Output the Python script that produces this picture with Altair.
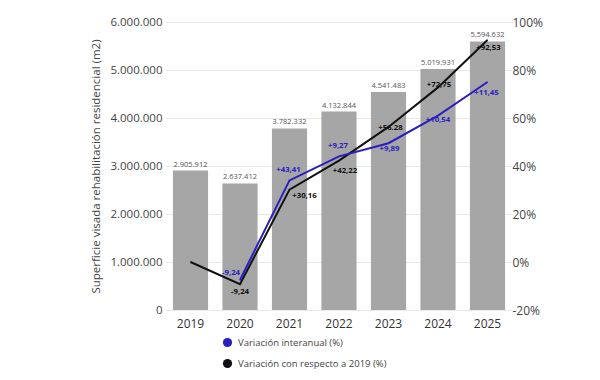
import altair as alt
import pandas as pd

years = ["2019", "2020", "2021", "2022", "2023", "2024", "2025"]
surface = [2905912, 2637412, 3782332, 4132844, 4541483, 5019931, 5594632]

# Variación con respecto a 2019 (%)
var_2019 = [0, -9.24, 30.16, 42.22, 56.28, 72.75, 92.53]
var_2019_labels = ["", "-9,24", "+30,16", "+42,22", "+56.28", "+72,75", "+92,53"]

# Variación interanual (%) : line heights as drawn in the picture, and printed labels
var_yoy = [None, -7.5, 34.0, 44.0, 49.5, 61.0, 75.0]
var_yoy_labels = ["", "-9,24", "+43,41", "+9,27", "+9,89", "+10,54", "+11,45"]

S_YOY = "Variación interanual (%)"
S_2019 = "Variación con respecto a 2019 (%)"

bars_df = pd.DataFrame({"year": years, "surface": surface})
rows = []
for y, v, l in zip(years, var_yoy, var_yoy_labels):
    if v is not None:
        rows.append({"year": y, "series": S_YOY, "value": v, "label": l})
for y, v, l in zip(years, var_2019, var_2019_labels):
    rows.append({"year": y, "series": S_2019, "value": v, "label": l})
lines_df = pd.DataFrame(rows)

FONT = "Open Sans"
BLUE = "#2A1EC0"
BLACK = "#111111"

x_enc = alt.X("year:N", sort=years,
              scale=alt.Scale(paddingInner=0.29, paddingOuter=0.14),
              axis=alt.Axis(title=None, labelAngle=0, labelFontSize=12, labelPadding=8,
                            labelColor="#333", grid=False))

y_left = alt.Y("surface:Q",
               scale=alt.Scale(domain=[0, 6000000]),
               axis=alt.Axis(title="Superficie visada rehabilitación residencial (m2)",
                             values=[0, 1000000, 2000000, 3000000, 4000000, 5000000, 6000000],
                             labelExpr="replace(format(datum.value, ','), /,/g, '.')",
                             labelFontSize=11.5, labelPadding=4, titleFontSize=11.5,
                             titleFontWeight="normal", titleColor="#444", titlePadding=8,
                             grid=True, gridColor="#e8e8e8"))

y_right = alt.Y("value:Q",
                scale=alt.Scale(domain=[-20, 100]),
                axis=alt.Axis(title=None, orient="right",
                              values=[-20, 0, 20, 40, 60, 80, 100],
                              labelExpr="datum.value + '%'",
                              labelFontSize=12, labelPadding=0, grid=False))

bars = alt.Chart(bars_df).mark_bar(color="#a6a6a6").encode(x=x_enc, y=y_left)
bar_labels = alt.Chart(bars_df).transform_calculate(
    txt="replace(format(datum.surface, ','), /,/g, '.')"
).mark_text(dy=-6, fontSize=7.5, color="#555", font=FONT).encode(
    x=x_enc, y=y_left, text="txt:N")

left = alt.layer(bars, bar_labels)

base_lines = alt.Chart(lines_df)


def line_layer(series, color):
    return base_lines.transform_filter(alt.datum.series == series).mark_line(
        strokeWidth=2, color=color).encode(x=x_enc, y=y_right)


legend_pts = base_lines.mark_point(filled=True, size=1, opacity=1).encode(
    x=x_enc, y=y_right,
    color=alt.Color("series:N",
                    scale=alt.Scale(domain=[S_YOY, S_2019], range=[BLUE, BLACK]),
                    legend=alt.Legend(title=None, orient="none", legendX=56, legendY=315,
                                      symbolType="circle", symbolSize=85,
                                      labelFontSize=9.5, labelColor="#444",
                                      rowPadding=10, labelOffset=5)))


def label_layer(series, yrs, dx, dy, color):
    return base_lines.transform_filter(
        alt.datum.series == series
    ).transform_filter(
        alt.FieldOneOfPredicate(field="year", oneOf=yrs)
    ).mark_text(dx=dx, dy=dy, fontSize=7.8, fontWeight="bold", color=color, font=FONT).encode(
        x=x_enc, y=y_right, text="label:N")


labels = [
    label_layer(S_YOY, ["2020"], -9, -7, BLUE),
    label_layer(S_YOY, ["2021", "2022"], -1, -10, BLUE),
    label_layer(S_YOY, ["2023"], 1, 6, BLUE),
    label_layer(S_YOY, ["2024"], 0, 4, BLUE),
    label_layer(S_YOY, ["2025"], -1, 11, BLUE),
    label_layer(S_2019, ["2020"], 0, 8, BLACK),
    label_layer(S_2019, ["2021"], 15, 6, BLACK),
    label_layer(S_2019, ["2022"], 6, 10, BLACK),
    label_layer(S_2019, ["2023"], 2, 1, BLACK),
    label_layer(S_2019, ["2024"], 1, -2, BLACK),
    label_layer(S_2019, ["2025"], 1, 8, BLACK),
]

right = alt.layer(line_layer(S_2019, BLACK), line_layer(S_YOY, BLUE), legend_pts, *labels)

chart = alt.layer(left, right).resolve_scale(y="independent").properties(
    width=346, height=288,
    autosize=alt.AutoSizeParams(type="none"),
    padding={"left": 158, "top": 14, "right": 70, "bottom": 62},
).configure_view(stroke=None).configure_axis(
    domain=False, ticks=False, labelColor="#444", labelFont=FONT, titleFont=FONT
).configure_legend(labelFont=FONT)

chart.save("out.html", embed_options={"renderer": "svg", "actions": False})
